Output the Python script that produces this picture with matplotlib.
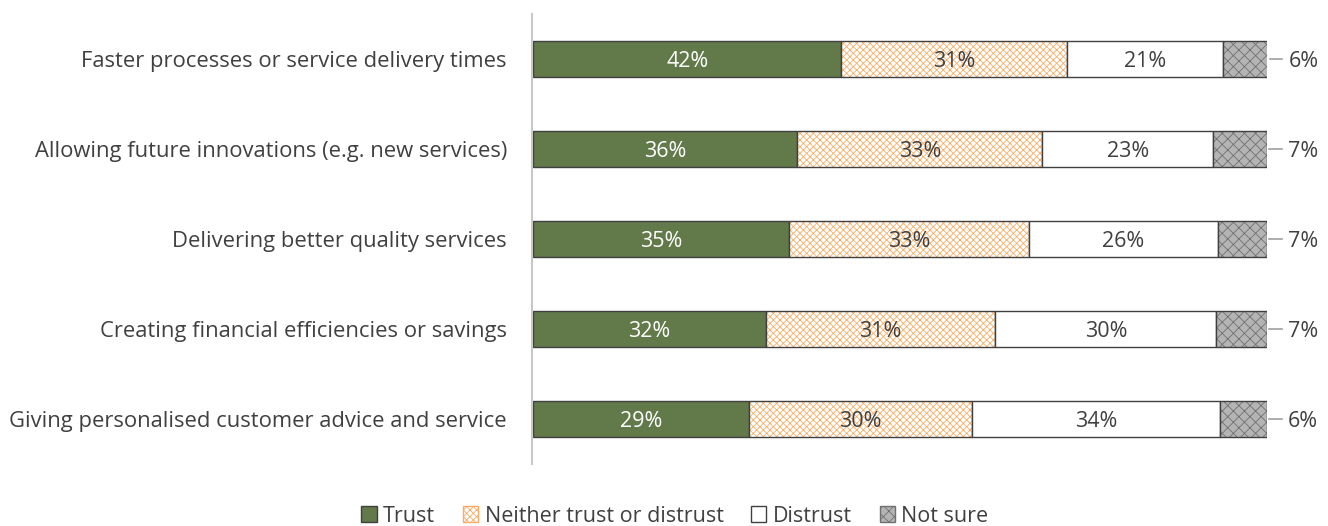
import matplotlib
matplotlib.use("Agg")
import matplotlib.pyplot as plt
from matplotlib.patches import Patch
import numpy as np

plt.rcParams['font.family'] = ['Open Sans', 'DejaVu Sans']
plt.rcParams['hatch.linewidth'] = 0.6

categories = [
    "Faster processes or service delivery times",
    "Allowing future innovations (e.g. new services)",
    "Delivering better quality services",
    "Creating financial efficiencies or savings",
    "Giving personalised customer advice and service",
]
trust = [42.0, 36.0, 34.9, 31.7, 29.4]
neither = [30.7, 33.4, 32.7, 31.3, 30.4]
distrust = [21.3, 23.3, 25.7, 30.1, 33.8]
not_sure = [6.1, 7.3, 6.7, 6.9, 6.4]

series_names = ["Trust", "Neither trust or distrust", "Distrust", "Not sure"]

fig = plt.figure(figsize=(13.28, 5.26), dpi=100)
ax = fig.add_axes([533/1328, 1 - 464/526, 734/1328, 450/526])

y = np.arange(len(categories))
edge = "#404040"
orange = "#f7ad66"
styles = [
    dict(color="#62794a", edgecolor=edge, hatch=None),
    dict(color="white", edgecolor=orange, hatch="xxxxx"),
    dict(color="white", edgecolor=edge, hatch=None),
    dict(color="#b4b4b4", edgecolor="#707070", hatch="xxx"),
]
data = [trust, neither, distrust, not_sure]
left = np.zeros(len(categories))
bars_all = []
for vals, st in zip(data, styles):
    vals = np.array(vals, dtype=float)
    ax.barh(y, vals, left=left, height=0.4, color=st["color"],
            edgecolor=st["edgecolor"], hatch=st["hatch"], linewidth=0)
    ax.barh(y, vals, left=left, height=0.4, fill=False, edgecolor=edge, linewidth=1.0)
    bars_all.append((vals, left.copy()))
    left = left + vals

fs = 15.5
for i in range(len(categories)):
    v, l = bars_all[0][0][i], bars_all[0][1][i]
    ax.text(l + v/2, y[i], f"{v:.0f}%", ha="center", va="center_baseline", color="white", fontsize=fs)
    for k in (1, 2):
        v, l = bars_all[k][0][i], bars_all[k][1][i]
        ax.text(l + v/2, y[i], f"{v:.0f}%", ha="center", va="center_baseline", color="#404040", fontsize=fs)
    v, l = bars_all[3][0][i], bars_all[3][1][i]
    ax.plot([l + v + 0.3, l + v + 2.0], [y[i], y[i]], color="#a0a0a0", lw=1.2, clip_on=False)
    ax.text(l + v + 2.8, y[i], f"{v:.0f}%", ha="left", va="center_baseline", color="#404040", fontsize=fs)

ax.set_xlim(0, 100)
ax.set_ylim(len(categories) - 0.5, -0.5)
ax.set_yticks(y)
ax.set_yticklabels(categories)
ax.tick_params(axis="y", length=0, pad=18, labelsize=15.8, labelcolor="#404040")
for t in ax.get_yticklabels():
    t.set_va("center_baseline")
ax.set_xticks([])
for s in ["top", "right", "bottom"]:
    ax.spines[s].set_visible(False)
ax.spines["left"].set_color("#c8c8c8")
ax.spines["left"].set_linewidth(1.5)
ax.spines["left"].set_position(("data", -0.15))

handles = [
    Patch(facecolor="#62794a", edgecolor=edge, linewidth=1.0),
    Patch(facecolor="white", edgecolor=orange, hatch="xxxxx", linewidth=1.0),
    Patch(facecolor="white", edgecolor=edge, linewidth=1.0),
    Patch(facecolor="#b4b4b4", edgecolor="#707070", hatch="xxx", linewidth=1.0),
]
fig.legend(handles, series_names, loc="center", bbox_to_anchor=(675/1328, 1 - 516/526),
           ncol=4, frameon=False, fontsize=15.5, handlelength=0.7, handleheight=0.7,
           handletextpad=0.3, columnspacing=1.3, labelcolor="#404040")

fig.savefig("out.png", dpi=100)
